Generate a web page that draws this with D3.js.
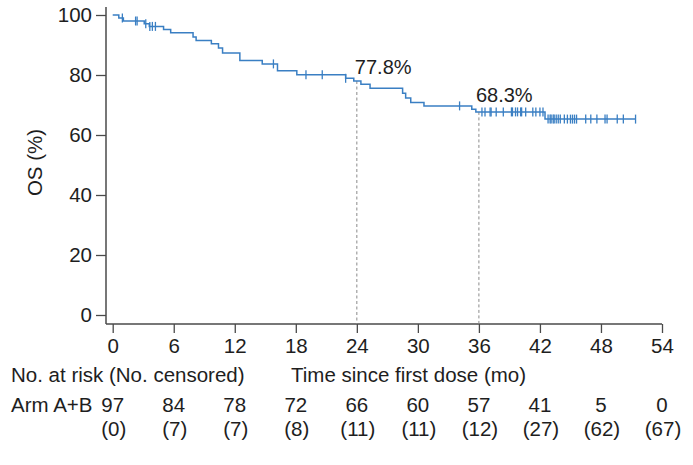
<!DOCTYPE html>
<html><head><meta charset="utf-8">
<script src="https://cdn.jsdelivr.net/npm/d3@7"></script>
<style>
body{margin:0;background:#fff;}
svg{font-family:"Liberation Sans",Arial,sans-serif;}
</style></head>
<body><svg id="c" width="693" height="465"></svg>
<script>
// Kaplan-Meier events: time (months) and OS (%) after each step
const eventTimes = [0.6, 1.05, 3.1, 3.6, 5.0, 5.7, 7.9, 8.2, 9.7, 10.4, 10.8, 12.5, 14.7, 16.2, 18.1, 22.9, 23.7, 24.4, 25.3, 28.5, 28.8, 29.3, 30.6, 35.3, 35.7, 42.5];
const survival   = [99.0, 98.0, 97.1, 96.2, 95.2, 94.1, 92.7, 91.5, 90.4, 89.0, 87.3, 84.8, 83.7, 81.4, 80.1, 78.9, 78.0, 76.9, 75.6, 73.9, 72.3, 70.8, 69.7, 68.6, 67.7, 65.3];
const lastTime = 51.4;
const censorTimes = [0.95, 2.25, 2.4, 3.25, 3.65, 3.9, 4.2, 15.8, 19.0, 20.6, 22.9, 34.1, 36.3, 36.6, 37.1, 37.2, 37.7, 38.4, 39.2, 39.3, 39.6, 39.8, 40.1, 40.2, 40.6, 41.3, 41.6, 42.0, 42.3, 42.8, 43.0, 43.1, 43.3, 43.4, 43.6, 43.8, 44.0, 44.4, 44.7, 45.0, 45.2, 45.4, 45.6, 46.5, 47.0, 47.6, 48.4, 48.6, 49.6, 50.2, 51.4];
const xTicks = [0, 6, 12, 18, 24, 30, 36, 42, 48, 54];
const yTicks = [0, 20, 40, 60, 80, 100];
const atRisk = [97, 84, 78, 72, 66, 60, 57, 41, 5, 0];
const censoredCounts = [0, 7, 7, 8, 11, 11, 12, 27, 62, 67];
const landmarks = [{t: 24, label: "77.8%"}, {t: 36, label: "68.3%"}];

const svg = d3.select("#c");
const x = d3.scaleLinear().domain([0, 54]).range([112.7, 662]);
const y = d3.scaleLinear().domain([0, 100]).range([315, 15]);
const axisX0 = 106, axisY0 = 324;
const ink = "#1e1e1e", axisCol = "#4a4a4a", blue = "#3a7fc3";
const fs = "20.5px";

function S(t){ let s = 100; for (let i=0;i<eventTimes.length;i++){ if (eventTimes[i] <= t) s = survival[i]; } return s; }

// axes lines
svg.append("line").attr("x1",axisX0).attr("x2",axisX0).attr("y1",y(102.7)).attr("y2",axisY0)
  .attr("stroke",axisCol).attr("stroke-width",1.5);
svg.append("line").attr("x1",axisX0).attr("x2",x(54)).attr("y1",axisY0).attr("y2",axisY0)
  .attr("stroke",axisCol).attr("stroke-width",1.5);

// y axis ticks
const yAxis = svg.append("g").attr("transform",`translate(${axisX0},0)`)
  .call(d3.axisLeft(y).tickValues(yTicks).tickSize(10).tickPadding(4));
yAxis.select(".domain").remove();
yAxis.selectAll("line").attr("stroke",axisCol).attr("stroke-width",1.3);
yAxis.selectAll("text").attr("fill",ink).style("font-size",fs).style("font-family","'Liberation Sans',Arial,sans-serif");

// x axis ticks
const xAxis = svg.append("g").attr("transform",`translate(0,${axisY0})`)
  .call(d3.axisBottom(x).tickValues(xTicks).tickSize(9).tickPadding(5));
xAxis.select(".domain").remove();
xAxis.selectAll("line").attr("stroke",axisCol).attr("stroke-width",1.3);
xAxis.selectAll("text").attr("fill",ink).style("font-size",fs).style("font-family","'Liberation Sans',Arial,sans-serif");

// y label
svg.append("text").attr("transform","translate(42,162.5) rotate(-90)").attr("text-anchor","middle")
  .attr("fill",ink).style("font-size",fs).text("OS (%)");

// landmark dashed lines
landmarks.forEach(d => {
  svg.append("line").attr("x1",x(d.t)).attr("x2",x(d.t)).attr("y1",y(S(d.t))).attr("y2",axisY0)
    .attr("stroke","#8a8a8a").attr("stroke-width",1).attr("stroke-dasharray","3,2.5");
});

// KM curve
const pts = [[0,100]].concat(eventTimes.map((t,i)=>[t,survival[i]])).concat([[lastTime, survival[survival.length-1]]]);
svg.append("path").datum(pts)
  .attr("d", d3.line().x(d=>x(d[0])).y(d=>y(d[1])).curve(d3.curveStepAfter))
  .attr("fill","none").attr("stroke",blue).attr("stroke-width",1.5);

// censor marks
svg.append("g").selectAll("line").data(censorTimes).join("line")
  .attr("x1",d=>x(d)).attr("x2",d=>x(d)).attr("y1",d=>y(S(d))-4.5).attr("y2",d=>y(S(d))+4.5)
  .attr("stroke",blue).attr("stroke-width",1.3);

// landmark labels
svg.append("text").attr("x",x(24)-2).attr("y",73.5).attr("fill",ink).style("font-size","20px").text(landmarks[0].label);
svg.append("text").attr("x",x(36)-3).attr("y",101.5).attr("fill",ink).style("font-size","20px").text(landmarks[1].label);

// risk table
svg.append("text").attr("x",11).attr("y",381.5).attr("fill",ink).style("font-size",fs).text("No. at risk (No. censored)");
svg.append("text").attr("x",291).attr("y",381.5).attr("fill",ink).style("font-size",fs).text("Time since first dose (mo)");
svg.append("text").attr("x",11).attr("y",411.5).attr("fill",ink).style("font-size",fs).text("Arm A+B");
svg.append("g").selectAll("text").data(atRisk).join("text")
  .attr("x",(d,i)=>x(xTicks[i])).attr("y",411.5).attr("text-anchor","middle").attr("fill",ink)
  .style("font-size",fs).text(d=>d);
svg.append("g").selectAll("text").data(censoredCounts).join("text")
  .attr("x",(d,i)=>x(xTicks[i])+1).attr("y",435.5).attr("text-anchor","middle").attr("fill",ink)
  .style("font-size",fs).text(d=>"("+d+")");
</script></body></html>
